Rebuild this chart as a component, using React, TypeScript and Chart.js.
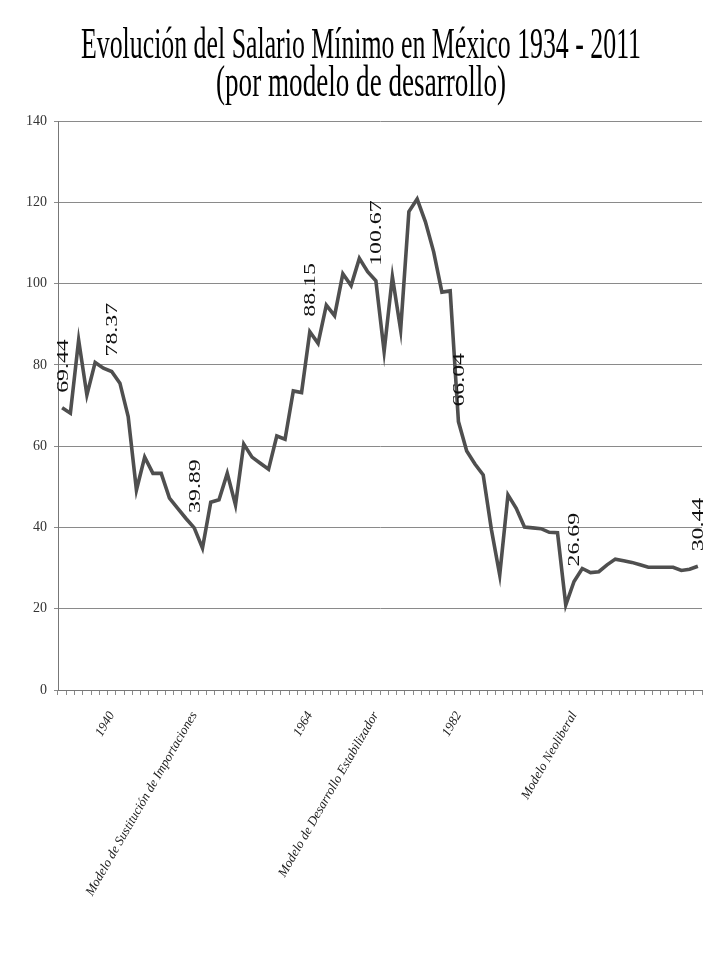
import React, { useEffect, useRef } from 'react';
import { Chart, registerables } from 'chart.js';

Chart.register(...registerables);

// ---- data ----
const years: number[] = [
  1934, 1935, 1936, 1937, 1938, 1939, 1940, 1941, 1942, 1943,
  1944, 1945, 1946, 1947, 1948, 1949, 1950, 1951, 1952, 1953,
  1954, 1955, 1956, 1957, 1958, 1959, 1960, 1961, 1962, 1963,
  1964, 1965, 1966, 1967, 1968, 1969, 1970, 1971, 1972, 1973,
  1974, 1975, 1976, 1977, 1978, 1979, 1980, 1981, 1982, 1983,
  1984, 1985, 1986, 1987, 1988, 1989, 1990, 1991, 1992, 1993,
  1994, 1995, 1996, 1997, 1998, 1999, 2000, 2001, 2002, 2003,
  2004, 2005, 2006, 2007, 2008, 2009, 2010, 2011,
];

const salary: number[] = [
  69.44, 68.1, 86.1, 72.6, 80.6, 79.2, 78.37, 75.5, 67.3, 49.2,
  57.3, 53.3, 53.3, 47.2, 44.7, 42.2, 39.89, 34.9, 46.2, 46.8,
  53.3, 45.5, 60.5, 57.3, 55.8, 54.3, 62.5, 61.7, 73.6, 73.2,
  88.15, 85.3, 94.7, 92.1, 102.4, 99.5, 106.2, 102.9, 100.67, 83.3,
  101.7, 88.6, 117.7, 120.8, 115.2, 107.8, 97.9, 98.2, 66.04, 58.8,
  55.6, 52.9, 39.4, 28.3, 48.0, 44.7, 40.1, 39.9, 39.7, 38.8,
  38.7, 20.9, 26.69, 29.9, 28.9, 29.1, 30.8, 32.2, 31.8, 31.4,
  30.8, 30.2, 30.2, 30.2, 30.2, 29.4, 29.7, 30.44,
];

const axisLabelYears: number[] = [1940, 1950, 1964, 1972, 1982, 1996];
const axisLabelTexts: string[] = [
  '1940',
  'Modelo de Sustitución de Importaciones',
  '1964',
  'Modelo de Desarrollo Estabilizador',
  '1982',
  'Modelo Neoliberal',
];

const annotatedYears: number[] = [1934, 1940, 1950, 1964, 1972, 1982, 1996, 2011];

const titleLines: string[] = [
  'Evolución del Salario Mínimo en México 1934 - 2011',
  '(por modelo de desarrollo)',
];

const yMin = 0;
const yMax = 140;
const yStep = 20;

// ---- plugins ----
const valueLabelPlugin = {
  id: 'valueLabels',
  afterDatasetsDraw(chart: any) {
    const meta = chart.getDatasetMeta(0);
    const ctx = chart.ctx;
    annotatedYears.forEach((yr) => {
      const i = years.indexOf(yr);
      const pt = meta.data[i];
      if (!pt) return;
      ctx.save();
      ctx.translate(pt.x + 1, pt.y - 15);
      ctx.rotate(-Math.PI / 2);
      ctx.scale(1.4, 1);
      ctx.font = '17px "Liberation Serif"';
      ctx.fillStyle = '#111';
      ctx.textAlign = 'left';
      ctx.textBaseline = 'middle';
      ctx.fillText(salary[i].toFixed(2), 0, 0);
      ctx.restore();
    });
  },
};

const titleStyle = {
  font: '45px "Liberation Serif"',
  centerX: 361,
  baselines: [58, 96],
  widths: [560, 290],
};

const titlePlugin = {
  id: 'condensedTitle',
  afterDraw(chart: any) {
    const ctx = chart.ctx;
    titleLines.forEach((line, k) => {
      ctx.save();
      ctx.font = titleStyle.font;
      const w = ctx.measureText(line).width;
      const sx = titleStyle.widths[k] / w;
      ctx.translate(titleStyle.centerX, titleStyle.baselines[k]);
      ctx.scale(sx, 1);
      ctx.textAlign = 'center';
      ctx.textBaseline = 'alphabetic';
      ctx.fillStyle = '#000';
      ctx.fillText(line, 0, 0);
      ctx.restore();
    });
  },
};

export default function App() {
  const canvasRef = useRef<HTMLCanvasElement | null>(null);

  useEffect(() => {
    const canvas = canvasRef.current;
    if (!canvas) return;
    const chart = new Chart(canvas, {
      type: 'line',
      data: {
        labels: years.map(String),
        datasets: [
          {
            label: 'Salario Mínimo',
            data: salary,
            borderColor: '#4f4f4f',
            borderWidth: 3.6,
            pointRadius: 0,
            tension: 0,
            fill: false,
          },
        ],
      },
      options: {
        animation: false,
        responsive: false,
        devicePixelRatio: 1,
        layout: { padding: { top: 121, right: 20, bottom: 0, left: 0 } },
        plugins: {
          legend: { display: false },
          tooltip: { enabled: false },
          title: { display: false },
        },
        scales: {
          x: {
            type: 'category',
            offset: true,
            grid: {
              offset: true,
              drawOnChartArea: false,
              drawTicks: true,
              tickLength: 5,
              color: '#8a8a8a',
            },
            border: { display: true, color: '#777' },
            ticks: {
              autoSkip: false,
              minRotation: 60,
              maxRotation: 60,
              padding: 14,
              color: '#222',
              font: { family: '"Liberation Serif"', style: 'italic', size: 13 },
              callback: (_v: any, index: number) => {
                const k = axisLabelYears.indexOf(years[index]);
                return k >= 0 ? axisLabelTexts[k] : '';
              },
            },
            afterFit: (s: any) => {
              s.height = 962 - 690;
              s.paddingLeft = 0;
              s.paddingRight = 0;
            },
          },
          y: {
            min: yMin,
            max: yMax,
            ticks: {
              stepSize: yStep,
              padding: 7,
              color: '#333',
              font: { family: '"Liberation Serif"', size: 14 },
            },
            grid: { color: '#8a8a8a', lineWidth: 1, tickLength: 4, drawTicks: true },
            border: { display: true, color: '#777' },
            afterFit: (s: any) => {
              s.width = 58;
            },
          },
        },
      },
      plugins: [valueLabelPlugin, titlePlugin],
    });
    return () => chart.destroy();
  }, []);

  return (
    <div style={{ position: 'absolute', left: 0, top: 0, width: 722, height: 962, background: '#fff' }}>
      <canvas ref={canvasRef} width={722} height={962} />
    </div>
  );
}
